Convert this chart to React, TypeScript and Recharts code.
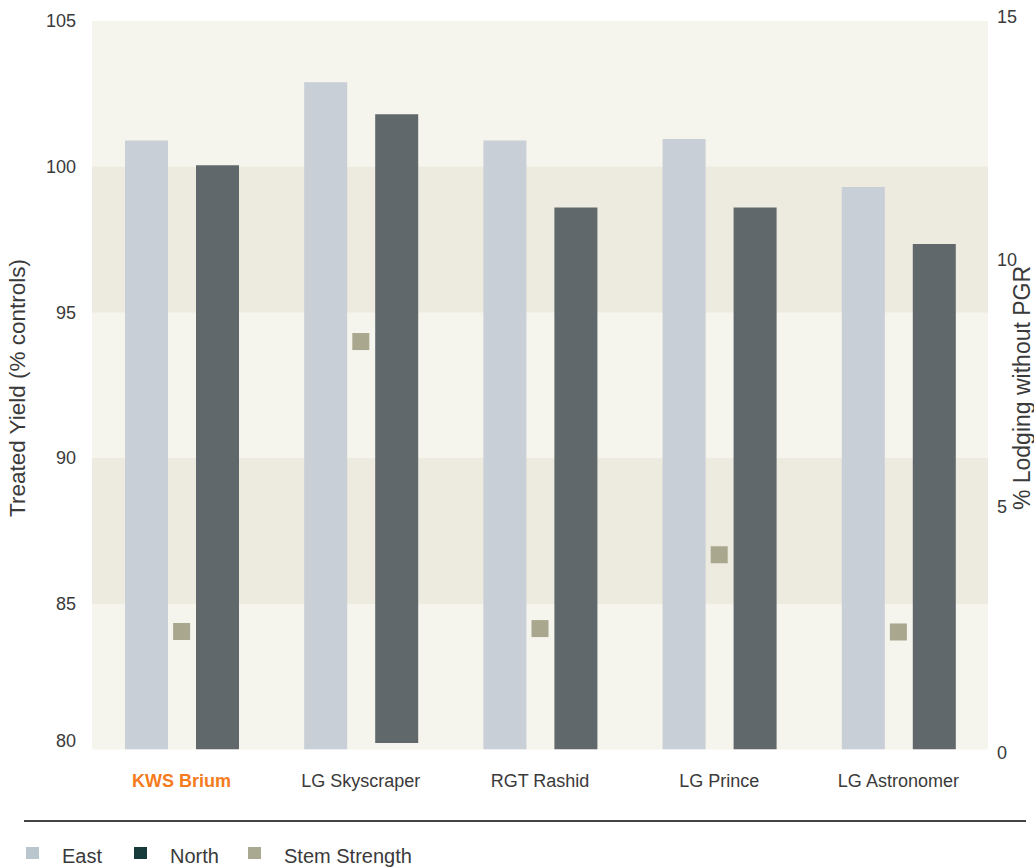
import React from 'react';
import { ComposedChart, Bar, Scatter, XAxis, YAxis, ReferenceArea } from 'recharts';

const categories = ['KWS Brium', 'LG Skyscraper', 'RGT Rashid', 'LG Prince', 'LG Astronomer'];
const eastYield = [100.9, 102.9, 100.9, 100.95, 99.3];
const northBase = [80, 80.22, 80, 80, 80];
const northTop = [100.05, 101.8, 98.6, 98.6, 97.35];
const stemStrength = [2.43, 8.4, 2.49, 4.01, 2.42];
const leftTicks = [80, 85, 90, 95, 100, 105];
const rightTicks = [0, 5, 10, 15];
const bands = [
  [95, 100],
  [85, 90],
];
const legendItems = [
  { label: 'East', color: '#b9c6cd' },
  { label: 'North', color: '#173a3a' },
  { label: 'Stem Strength', color: '#a9a890' },
];

const data = categories.map((name, i) => ({
  name,
  east: eastYield[i],
  north: [northBase[i], northTop[i]],
  stem: stemStrength[i],
}));

const FONT = '"Liberation Sans", Arial, Helvetica, sans-serif';
const TEXT = '#3a3a3a';

const XTick = (props: any) => {
  const { x, y, payload } = props;
  const highlight = payload.value === 'KWS Brium';
  return (
    <text
      x={x}
      y={y}
      dy="0.71em"
      textAnchor="middle"
      fontFamily={FONT}
      fontSize={18}
      fontWeight={highlight ? 'bold' : 'normal'}
      fill={highlight ? '#f47b20' : TEXT}
    >
      {payload.value}
    </text>
  );
};

const LeftTick = (props: any) => {
  const { x, y, payload } = props;
  const shift = payload.value === 80 ? -9 : 0;
  return (
    <text x={x} y={y + shift} dy="0.355em" textAnchor="end" fontFamily={FONT} fontSize={18} fill={TEXT}>
      {payload.value}
    </text>
  );
};

const RightTick = (props: any) => {
  const { x, y, payload } = props;
  const shift = payload.value === 15 ? -4 : payload.value === 10 ? -4 : payload.value === 0 ? 3 : 0;
  return (
    <text x={x} y={y + shift} dy="0.355em" textAnchor="start" fontFamily={FONT} fontSize={18} fill={TEXT}>
      {payload.value}
    </text>
  );
};

const Square = (props: any) => {
  const { cx, cy } = props;
  return <rect x={cx - 8.5} y={cy - 8.5} width={17} height={17} fill="#a9a88f" />;
};

export default function App() {
  return (
    <div
      style={{
        position: 'absolute',
        left: 0,
        top: 0,
        width: 1034,
        height: 867,
        background: '#ffffff',
        fontFamily: FONT,
        overflow: 'hidden',
      }}
    >
      <ComposedChart
        width={1034}
        height={810}
        data={data}
        margin={{ top: 21, right: 0, bottom: 0, left: 0 }}
        barGap={28}
        barSize={43}
      >
        <ReferenceArea yAxisId="left" y1={80} y2={105} fill="#f5f4ed" fillOpacity={1} stroke="none" />
        {bands.map(([a, b]) => (
          <ReferenceArea key={a} yAxisId="left" y1={a} y2={b} fill="#edeadf" fillOpacity={1} stroke="none" />
        ))}
        <XAxis
          dataKey="name"
          interval={0}
          axisLine={false}
          tickLine={false}
          tickSize={0}
          tickMargin={25}
          height={60.5}
          tick={<XTick />}
        />
        <YAxis
          yAxisId="left"
          orientation="left"
          domain={[80, 105]}
          ticks={leftTicks}
          allowDataOverflow
          axisLine={false}
          tickLine={false}
          tickSize={0}
          tickMargin={16}
          width={92}
          tick={<LeftTick />}
        />
        <YAxis
          yAxisId="right"
          orientation="right"
          domain={[0, 15]}
          ticks={rightTicks}
          allowDataOverflow
          axisLine={false}
          tickLine={false}
          tickSize={0}
          tickMargin={9}
          width={46}
          tick={<RightTick />}
        />
        <Bar yAxisId="left" dataKey="east" name="East" fill="#c8cfd6" isAnimationActive={false} />
        <Bar yAxisId="left" dataKey="north" name="North" fill="#60686b" isAnimationActive={false} />
        <Scatter yAxisId="right" dataKey="stem" name="Stem Strength" fill="#a9a88f" shape={<Square />} isAnimationActive={false} />
      </ComposedChart>

      <div
        style={{
          position: 'absolute',
          left: 18,
          top: 388,
          transform: 'translate(-50%, -50%) rotate(-90deg)',
          whiteSpace: 'nowrap',
          fontSize: 22.5,
          color: TEXT,
          lineHeight: 1,
        }}
      >
        Treated Yield (% controls)
      </div>
      <div
        style={{
          position: 'absolute',
          left: 1022,
          top: 388,
          transform: 'translate(-50%, -50%) rotate(-90deg)',
          whiteSpace: 'nowrap',
          fontSize: 23,
          color: TEXT,
          lineHeight: 1,
        }}
      >
        % Lodging without PGR
      </div>

      <div style={{ position: 'absolute', left: 24, top: 820, width: 1002, height: 1.5, background: '#444' }} />

      {legendItems.map((item, i) => {
        const lefts = [26, 134, 248];
        const textLefts = [62, 170, 284];
        return (
          <React.Fragment key={item.label}>
            <div
              style={{
                position: 'absolute',
                left: lefts[i],
                top: 847,
                width: 13,
                height: 12,
                background: item.color,
              }}
            />
            <div
              style={{
                position: 'absolute',
                left: textLefts[i],
                top: 845,
                fontSize: 20,
                lineHeight: '22px',
                color: TEXT,
                whiteSpace: 'nowrap',
              }}
            >
              {item.label}
            </div>
          </React.Fragment>
        );
      })}
    </div>
  );
}
